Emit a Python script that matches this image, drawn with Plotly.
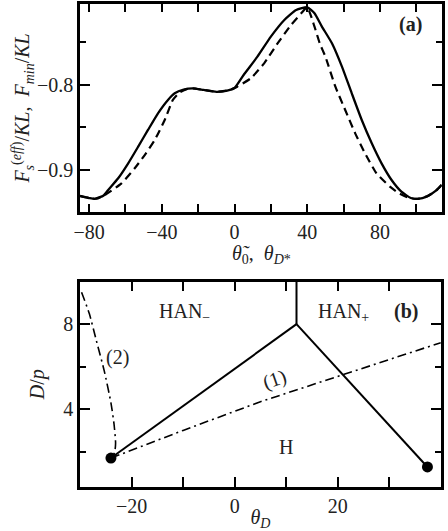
import plotly.graph_objects as go

# ---- Panel (a) data ----
solid_theta = [-85, -80, -77, -72, -69.5, -64, -58.5, -53, -47.6, -42.1, -36.6, -32.9, -28, -23, -17, -10, -4, 0,
               5, 12.6, 20, 27.4, 33.9, 40, 44, 48, 53.6, 59.1, 64.5, 70, 75.5, 80.9, 86.4, 91.8, 97, 101, 106, 111, 114]
solid_F = [-0.9306, -0.9330, -0.9340, -0.9300, -0.9235, -0.9098, -0.8922, -0.8725, -0.8529, -0.8333, -0.8176, -0.8098,
           -0.8055, -0.8040, -0.8058, -0.8080, -0.8065, -0.8035, -0.7882, -0.7667, -0.7431, -0.7235, -0.7118, -0.7086,
           -0.7157, -0.7310, -0.7509, -0.7784, -0.8098, -0.8412, -0.8686, -0.8922, -0.9118, -0.9255, -0.9330, -0.9340,
           -0.9310, -0.9240, -0.9175]

dashed_theta = [-85, -80, -76, -71.3, -62.2, -54.9, -49.4, -43.9, -38.4, -33.9, -30, -26, -23, -17, -10, -4, 0, 1.5,
                8.9, 16.3, 23.7, 31.1, 36.7, 40, 44, 46.9, 50, 55.5, 60.9, 66.4, 71.8, 78.1, 85.5, 90, 95, 100, 106, 111, 114]
dashed_F = [-0.9306, -0.9330, -0.9338, -0.9294, -0.9157, -0.8980, -0.8824, -0.8647, -0.8412, -0.8176, -0.8085, -0.8045,
            -0.8040, -0.8058, -0.8080, -0.8065, -0.8035, -0.8020, -0.7922, -0.7745, -0.7510, -0.7294, -0.7157, -0.7086,
            -0.7314, -0.7510, -0.7667, -0.8020, -0.8294, -0.8569, -0.8804, -0.9039, -0.9196, -0.9267, -0.9320, -0.9340,
            -0.9310, -0.9240, -0.9175]

# ---- Panel (b) data ----
boundary_left_theta = [-24, 12]
boundary_left_D = [1.7, 8]
boundary_right_theta = [12, 37.4]
boundary_right_D = [8, 1.28]
boundary_top_theta = [12, 12]
boundary_top_D = [8, 10]

path1_theta = [-24, -10, 5, 21, 40]
path1_D = [1.7, 3.0, 4.35, 5.62, 7.13]

path2_theta = [-29.7, -28.2, -26.8, -25.3, -24.0, -23.4, -23.1, -23.3, -24]
path2_D = [9.5, 8.5, 7.2, 5.8, 4.3, 3.3, 2.4, 1.95, 1.7]

dots_theta = [-24, 37.4]
dots_D = [1.7, 1.28]

FONT = "Liberation Serif"
TXT = "#222222"
FS = 20

fig = go.Figure()

fig.add_trace(go.Scatter(x=solid_theta, y=solid_F, mode="lines",
                         line=dict(color="black", width=2.3, shape="spline", smoothing=0.5),
                         xaxis="x", yaxis="y", showlegend=False))
fig.add_trace(go.Scatter(x=dashed_theta, y=dashed_F, mode="lines",
                         line=dict(color="black", width=2.2, dash="8px,5px", shape="spline", smoothing=0.5),
                         xaxis="x", yaxis="y", showlegend=False))

for xs, ys in [(boundary_left_theta, boundary_left_D), (boundary_right_theta, boundary_right_D),
               (boundary_top_theta, boundary_top_D)]:
    fig.add_trace(go.Scatter(x=xs, y=ys, mode="lines", line=dict(color="black", width=2),
                             xaxis="x2", yaxis="y2", showlegend=False))
fig.add_trace(go.Scatter(x=path1_theta, y=path1_D, mode="lines",
                         line=dict(color="black", width=1.6, dash="9px,4px,2px,4px"),
                         xaxis="x2", yaxis="y2", showlegend=False))
fig.add_trace(go.Scatter(x=path2_theta, y=path2_D, mode="lines",
                         line=dict(color="black", width=1.6, dash="9px,4px,2px,4px", shape="spline", smoothing=0.6),
                         xaxis="x2", yaxis="y2", showlegend=False))
fig.add_trace(go.Scatter(x=dots_theta, y=dots_D, mode="markers",
                         marker=dict(color="black", size=11),
                         xaxis="x2", yaxis="y2", showlegend=False))

axis_common = dict(showline=True, linecolor="black", linewidth=2.5, mirror="allticks",
                   ticks="inside", tickcolor="black", tickwidth=2, showgrid=False, zeroline=False,
                   tickfont=dict(family=FONT, size=FS, color=TXT), automargin=False)

fig.update_layout(
    width=448, height=531,
    margin=dict(l=0, r=0, t=0, b=0),
    paper_bgcolor="white", plot_bgcolor="white",
    font=dict(family=FONT, color=TXT, size=FS),
    xaxis=dict(domain=[0.1786, 0.986], anchor="y", range=[-85, 114], tickmode="linear", tick0=-80, dtick=40,
               ticklen=8, minor=dict(dtick=20, tick0=-80, ticklen=8, tickwidth=2, tickcolor="black", ticks="inside"),
               **axis_common),
    yaxis=dict(domain=[0.6008, 0.9925], anchor="x", range=[-0.9494, -0.7047], tickmode="linear", tick0=-0.8,
               dtick=0.1, ticklen=10, tickformat=".1f",
               minor=dict(dtick=0.05, tick0=-0.8, ticklen=6, tickwidth=2, tickcolor="black", ticks="inside"),
               title=dict(text="<i>F</i><sub><i>s</i></sub><sup>(<i>eff</i>)</sup>/<i>KL</i>,  <i>F</i><sub><i>min</i></sub>/<i>KL</i>",
                          standoff=2, font=dict(family=FONT, size=FS, color=TXT)),
               **axis_common),
    xaxis2=dict(domain=[0.1786, 0.984], anchor="y2", range=[-30, 40], tickmode="linear", tick0=-20, dtick=20,
                ticklen=10, minor=dict(dtick=10, tick0=-20, ticklen=10, tickwidth=2, tickcolor="black", ticks="inside"),
                title=dict(text="<i>θ</i><sub><i>D</i></sub>", standoff=0,
                           font=dict(family=FONT, size=FS, color=TXT)),
                **axis_common),
    yaxis2=dict(domain=[0.0834, 0.4695], anchor="x2", range=[0.35, 10], tickmode="linear", tick0=4, dtick=4,
                ticklen=10, minor=dict(dtick=2, tick0=2, ticklen=6, tickwidth=2, tickcolor="black", ticks="inside"),
                title=dict(text="<i>D</i>/<i>p</i>", standoff=14,
                           font=dict(family=FONT, size=FS, color=TXT)),
                **axis_common),
)

# x-axis title of panel (a), placed as paper annotation just below the tick labels
fig.add_annotation(x=0.583, y=0.521, xref="paper", yref="paper", xanchor="center", yanchor="middle",
                   showarrow=False, font=dict(family=FONT, size=FS, color=TXT),
                   text="<i>θ̃</i><sub>0</sub>,  <i>θ</i><sub><i>D</i>*</sub>")

annots = [
    dict(x=97, y=-0.7294, xref="x", yref="y", text="<b>(a)</b>", textangle=0),
    dict(x=-9.7, y=8.55, xref="x2", yref="y2", text="HAN<sub>−</sub>", textangle=0),
    dict(x=21.1, y=8.55, xref="x2", yref="y2", text="HAN<sub>+</sub>", textangle=0),
    dict(x=33.3, y=8.6, xref="x2", yref="y2", text="<b>(b)</b>", textangle=0),
    dict(x=9.9, y=2.2, xref="x2", yref="y2", text="H", textangle=0),
    dict(x=7.8, y=5.4, xref="x2", yref="y2", text="(1)", textangle=-19),
    dict(x=-22.7, y=6.45, xref="x2", yref="y2", text="(2)", textangle=0),
]
for a in annots:
    fig.add_annotation(showarrow=False, font=dict(family=FONT, size=FS, color=TXT), **a)

fig.write_html("out.html", config={"displayModeBar": False},
               post_script="document.body.style.margin='0';document.body.style.padding='0';")
